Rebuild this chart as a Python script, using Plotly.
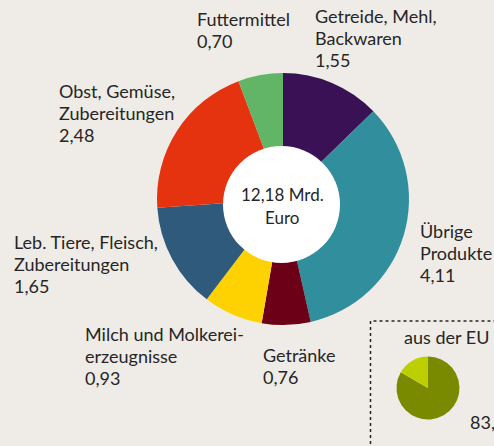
import plotly.graph_objects as go

# ---- data ----
categories = ["Getreide, Mehl, Backwaren", "Übrige Produkte", "Getränke",
              "Milch und Molkereierzeugnisse", "Leb. Tiere, Fleisch, Zubereitungen",
              "Obst, Gemüse, Zubereitungen", "Futtermittel"]
values = [1.55, 4.11, 0.76, 0.93, 1.65, 2.48, 0.70]
label_lines = [["Getreide, Mehl,", "Backwaren"], ["Übrige", "Produkte"], ["Getränke"],
               ["Milch und Molkerei-", "erzeugnisse"], ["Leb. Tiere, Fleisch,", "Zubereitungen"],
               ["Obst, Gemüse,", "Zubereitungen"], ["Futtermittel"]]
colors = ["#3b1155", "#318e9c", "#6b0016", "#fed200", "#2f5a7c", "#e5330f", "#62b567"]
total_text = ["12,18 Mrd.", "Euro"]

eu_categories = ["aus der EU", "aus Drittstaaten"]
eu_values = [83.4, 16.6]
eu_colors = ["#7a8a00", "#bccf00"]
eu_title = "aus der EU"
eu_value_text = "83,4 %"

# ---- layout helpers ----
W, H = 494, 446
BG = "#efece7"
TXT = "#262626"
FONT = "Lato"
FS = 18
LH = 21.8

def px(x):
    return x / W

def py(y):
    return 1 - y / H

# label anchor positions (left x, first baseline y) in pixels
label_pos = [(313, 22), (418, 237), (261, 361), (83, 340), (12, 248), (57, 97), (195, 25)]

cx, cy, r = 283, 199, 126
hx, hy, hr = 281.5, 204.5, 58.5

fig = go.Figure()
fig.add_trace(go.Pie(
    labels=categories, values=values, sort=False, direction="clockwise", rotation=0,
    marker=dict(colors=colors, line=dict(width=0)), textinfo="none", hole=0.3,
    hoverinfo="label+value", showlegend=False,
    domain=dict(x=[px(cx - r), px(cx + r)], y=[py(cy + r), py(cy - r)]),
))

ecx, ecy, er = 428, 388, 31.5
fig.add_trace(go.Pie(
    labels=eu_categories, values=eu_values, sort=False, direction="clockwise", rotation=0,
    marker=dict(colors=eu_colors, line=dict(width=0)), textinfo="none",
    hoverinfo="label+value", showlegend=False,
    domain=dict(x=[px(ecx - er), px(ecx + er)], y=[py(ecy + er), py(ecy - er)]),
))

shapes = [
    dict(type="circle", xref="paper", yref="paper", layer="above",
         x0=px(hx - hr), x1=px(hx + hr), y0=py(hy + hr), y1=py(hy - hr),
         fillcolor="white", line=dict(width=0)),
    dict(type="rect", xref="paper", yref="paper",
         x0=px(370.5), x1=px(W + 20), y0=py(H + 20), y1=py(321),
         line=dict(color=TXT, width=1.5, dash="dot"), fillcolor="rgba(0,0,0,0)"),
]

annotations = []

def add_line(text, x, baseline, anchor="left", size=FS):
    annotations.append(dict(
        text=text, x=px(x), y=py(baseline - 0.33 * size), xref="paper", yref="paper",
        xanchor=anchor, yanchor="middle", showarrow=False,
        font=dict(family=FONT, size=size, color=TXT),
    ))

for lines, v, (x, b) in zip(label_lines, values, label_pos):
    all_lines = lines + [f"{v:.2f}".replace(".", ",")]
    for i, t in enumerate(all_lines):
        add_line(t, x, b + i * LH)

add_line(total_text[0], 282, 200, anchor="center", size=17)
add_line(total_text[1], 282, 223, anchor="center", size=17)
add_line(eu_title, 402, 343)
add_line(eu_value_text, 468, 428)

fig.update_layout(
    width=W, height=H, margin=dict(l=0, r=0, t=0, b=0),
    paper_bgcolor=BG, plot_bgcolor=BG,
    shapes=shapes, annotations=annotations,
)

fig.write_html("out.html", config={"displayModeBar": False},
               post_script="document.body.style.margin='0';document.body.style.background='%s';" % BG)
